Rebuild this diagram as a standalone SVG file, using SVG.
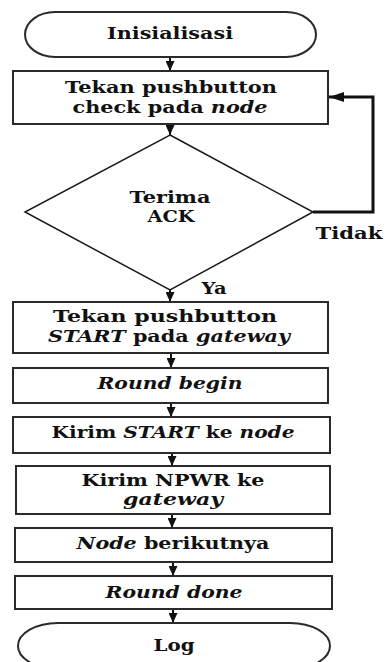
<svg xmlns="http://www.w3.org/2000/svg" width="386" height="662" viewBox="0 0 386 662">
  <defs>
    <marker id="head" viewBox="0 0 10 10" refX="10" refY="5" markerWidth="10" markerHeight="9" markerUnits="userSpaceOnUse" orient="auto" preserveAspectRatio="none">
      <path d="M0,0 L10,5 L0,10 Z" fill="#111"/>
    </marker>
    <marker id="headL" viewBox="0 0 10 10" refX="10" refY="5" markerWidth="15" markerHeight="10" markerUnits="userSpaceOnUse" orient="auto" preserveAspectRatio="none">
      <path d="M0,0 L10,5 L0,10 Z" fill="#111"/>
    </marker>
  </defs>
  <style>
    .box { fill: #fff; stroke: #2a2a2a; stroke-width: 2; }
    .dia { fill: #fff; stroke: #1a1a1a; stroke-width: 1.5; }
    .lbl { font-family: "DejaVu Serif", "Liberation Serif", serif; font-weight: bold; font-size: 16px; fill: #111; text-anchor: middle; }
    .it { font-style: italic; }
    .edge { fill: none; stroke: #111; stroke-width: 2; }
    .loop { fill: none; stroke: #111; stroke-width: 3; }
  </style>
  <rect width="386" height="662" fill="#fff"/>

  <g id="connectors">
    <line class="edge" x1="170" y1="57" x2="170" y2="71" marker-end="url(#head)"/>
    <line class="edge" x1="170" y1="124" x2="170" y2="135" marker-end="url(#head)"/>
    <line class="edge" x1="170" y1="288" x2="170" y2="302" marker-end="url(#head)"/>
    <line class="edge" x1="171" y1="353" x2="171" y2="368" marker-end="url(#head)"/>
    <line class="edge" x1="171" y1="403" x2="171" y2="417" marker-end="url(#head)"/>
    <line class="edge" x1="172" y1="453" x2="172" y2="466" marker-end="url(#head)"/>
    <line class="edge" x1="172" y1="514" x2="172" y2="528" marker-end="url(#head)"/>
    <line class="edge" x1="173" y1="562" x2="173" y2="576" marker-end="url(#head)"/>
    <line class="edge" x1="173" y1="609" x2="173" y2="623" marker-end="url(#head)"/>
    <polyline class="loop" points="313,212 373,212 373,97 329,97" marker-end="url(#headL)"/>
  </g>

  <g id="start">
    <rect class="box" x="25" y="12" width="291" height="45" rx="30" ry="22.5"/>
    <text class="lbl" x="170" y="39" textLength="126" lengthAdjust="spacingAndGlyphs">Inisialisasi</text>
  </g>

  <g id="press-check">
    <rect class="box" x="13" y="71" width="315" height="53"/>
    <text class="lbl" x="171" y="93" textLength="212" lengthAdjust="spacingAndGlyphs">Tekan pushbutton</text>
    <text class="lbl" x="170" y="113" textLength="195" lengthAdjust="spacingAndGlyphs">check pada <tspan class="it">node</tspan></text>
  </g>

  <g id="ack-decision">
    <polygon class="dia" points="170,135 313,212 170,290 25,212"/>
    <text class="lbl" x="170" y="203" textLength="81" lengthAdjust="spacingAndGlyphs">Terima</text>
    <text class="lbl" x="171" y="222" textLength="47" lengthAdjust="spacingAndGlyphs">ACK</text>
  </g>

  <g id="edge-labels">
    <text class="lbl" x="349" y="239" textLength="67" lengthAdjust="spacingAndGlyphs">Tidak</text>
    <text class="lbl" x="214" y="294" textLength="25" lengthAdjust="spacingAndGlyphs">Ya</text>
  </g>

  <g id="press-start">
    <rect class="box" x="13" y="302" width="315" height="51"/>
    <text class="lbl" x="165" y="322" textLength="224" lengthAdjust="spacingAndGlyphs">Tekan pushbutton</text>
    <text class="lbl" x="169" y="342" textLength="242" lengthAdjust="spacingAndGlyphs"><tspan class="it">START</tspan> pada <tspan class="it">gateway</tspan></text>
  </g>

  <g id="round-begin">
    <rect class="box" x="13" y="368" width="315" height="35"/>
    <text class="lbl it" x="170" y="389" textLength="145" lengthAdjust="spacingAndGlyphs">Round begin</text>
  </g>

  <g id="send-start">
    <rect class="box" x="13" y="417" width="317" height="36"/>
    <text class="lbl" x="173" y="438" textLength="243" lengthAdjust="spacingAndGlyphs">Kirim <tspan class="it">START</tspan> ke <tspan class="it">node</tspan></text>
  </g>

  <g id="send-npwr">
    <rect class="box" x="16" y="466" width="314" height="48"/>
    <text class="lbl" x="173" y="486" textLength="183" lengthAdjust="spacingAndGlyphs">Kirim NPWR ke</text>
    <text class="lbl it" x="173" y="505" textLength="100" lengthAdjust="spacingAndGlyphs">gateway</text>
  </g>

  <g id="next-node">
    <rect class="box" x="15" y="528" width="317" height="34"/>
    <text class="lbl" x="173" y="549" textLength="193" lengthAdjust="spacingAndGlyphs"><tspan class="it">Node</tspan> berikutnya</text>
  </g>

  <g id="round-done">
    <rect class="box" x="15" y="576" width="317" height="33"/>
    <text class="lbl it" x="174" y="598" textLength="137" lengthAdjust="spacingAndGlyphs">Round done</text>
  </g>

  <g id="log">
    <rect class="box" x="18" y="623" width="312" height="46" rx="40" ry="23"/>
    <text class="lbl" x="174" y="651" textLength="41" lengthAdjust="spacingAndGlyphs">Log</text>
  </g>
</svg>
